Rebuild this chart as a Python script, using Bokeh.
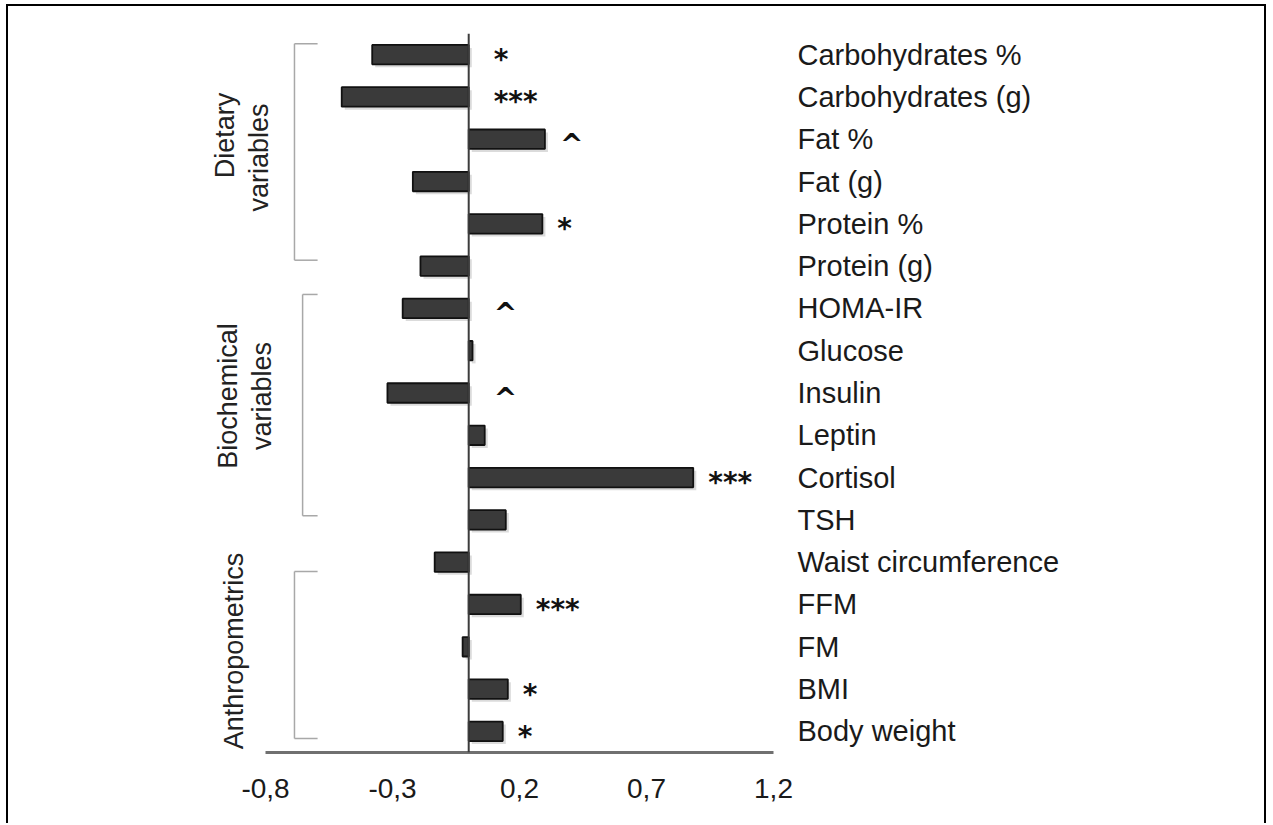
import math
from bokeh.plotting import figure
from bokeh.models import FactorRange, Range1d, Span, FixedTicker, LinearAxis, ColumnDataSource
from bokeh.core.properties import value
from bokeh.embed import file_html
from bokeh.resources import INLINE

# ---------------- data ----------------
categories = ["Carbohydrates %", "Carbohydrates (g)", "Fat %", "Fat (g)", "Protein %", "Protein (g)",
              "HOMA-IR", "Glucose", "Insulin", "Leptin", "Cortisol", "TSH",
              "Waist circumference", "FFM", "FM", "BMI", "Body weight"]
values = [-0.38, -0.50, 0.30, -0.22, 0.29, -0.19,
          -0.26, 0.015, -0.32, 0.063, 0.884, 0.146,
          -0.134, 0.205, -0.024, 0.154, 0.134]
significance = ["*", "***", "^", "", "*", "",
                "^", "", "^", "", "***", "",
                "", "***", "", "*", "*"]
x_ticks = [-0.8, -0.3, 0.2, 0.7, 1.2]
x_tick_labels = ["-0,8", "-0,3", "0,2", "0,7", "1,2"]
group_lines = ["Dietary", "variables", "Biochemical", "variables", "Anthropometrics"]

# ---------------- figure ----------------
W, H = 1260, 819
p = figure(width=W, height=H, output_backend="svg", toolbar_location=None,
           y_range=FactorRange(factors=list(reversed(categories))),
           x_range=Range1d(-1.056, 1.2),
           y_axis_location="right", x_axis_type=None,
           min_border_left=192, min_border_right=495, min_border_top=27, min_border_bottom=73)
p.styles = {"border-top": "2px solid black", "border-left": "2px solid black",
            "border-right": "2px solid black", "margin-left": "6px", "margin-top": "4px"}
p.outline_line_color = None
p.xgrid.visible = False
p.ygrid.visible = False
p.background_fill_color = "white"
p.border_fill_color = "white"

# x axis (restricted to the data span)
xax = LinearAxis(bounds=(x_ticks[0], x_ticks[-1]), ticker=FixedTicker(ticks=x_ticks),
                 major_label_overrides={t: l for t, l in zip(x_ticks, x_tick_labels)})
xax.axis_line_color = "#707070"
xax.axis_line_width = 3
xax.major_tick_line_color = None
xax.major_tick_out = 0
xax.major_tick_in = 0
xax.minor_tick_line_color = None
xax.major_label_standoff = 26
xax.major_label_text_font = "Liberation Sans"
xax.major_label_text_font_size = "28px"
xax.major_label_text_color = "#1a1a1a"
p.add_layout(xax, "below")

# right categorical axis with variable names
yax = p.yaxis[0]
yax.axis_line_color = None
yax.major_tick_line_color = None
yax.major_tick_out = 0
yax.major_tick_in = 0
yax.major_label_standoff = 24
yax.major_label_text_font = "Liberation Sans"
yax.major_label_text_font_size = "29px"
yax.major_label_text_color = "#1a1a1a"

# bars (with a soft shadow)
src = ColumnDataSource(dict(cat=categories, val=values,
                            sig=significance,
                            sh_y=[(c, -0.07) for c in categories],
                            sh_l=[min(v, 0) + 0.012 for v in values],
                            sh_r=[max(v, 0) + 0.012 for v in values],
                            sx=[max(v, 0) for v in values],
                            off=[15 if v > 0 else 25 for v in values]))
p.hbar(y="sh_y", left="sh_l", right="sh_r", height=0.46, source=src,
       fill_color="#bdbdbd", fill_alpha=0.55, line_color=None)
p.hbar(y="cat", left=0, right="val", height=0.46, source=src,
       fill_color="#3a3a3a", line_color="#111111", line_width=1.8)

# zero line
p.add_layout(Span(location=0, dimension="height", line_color="#3c3c3c", line_width=2))

# significance marks
p.text(x="sx", y="cat", text="sig", source=src, x_offset="off", y_offset=5,
       text_align="left", text_baseline="middle",
       text_font=value("DejaVu Sans"), text_font_style="bold",
       text_font_size="28px", text_color="#111111")

# group brackets
br_x = [-0.686, -0.654, -0.686]
br_top = [("Carbohydrates %", 0.26), ("HOMA-IR", 0.33), ("FFM", 0.78)]
br_bot = [("Protein (g)", 0.14), ("TSH", 0.10), ("Body weight", -0.17)]
br_end = -0.595
x0, y0, x1, y1 = [], [], [], []
for bx, t, b in zip(br_x, br_top, br_bot):
    x0 += [bx, bx, bx]
    y0 += [t, t, b]
    x1 += [bx, br_end, br_end]
    y1 += [b, t, b]
p.segment(x0=x0, y0=y0, x1=x1, y1=y1, line_color="#a8a8a8", line_width=1.5)

# group labels (rotated)
gl_x = [-0.961, -0.824, -0.946, -0.812, -0.926]
gl_y = [("Fat %", 0.09), ("Fat %", -0.43), ("Insulin", -0.07), ("Insulin", -0.07), ("FM", -0.10)]
p.text(x=gl_x, y=gl_y, text=group_lines, angle=math.pi / 2,
       text_align="center", text_baseline="middle",
       text_font=value("Liberation Sans"), text_font_size="27px", text_color="#222222")

open("out.html", "w").write(file_html(p, INLINE))
